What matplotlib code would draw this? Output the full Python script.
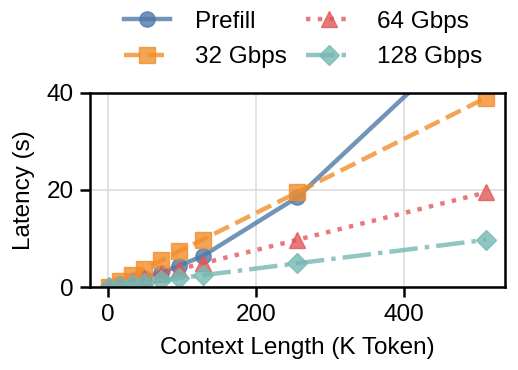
import matplotlib
matplotlib.use("Agg")
import matplotlib.pyplot as plt

# Context lengths (K tokens) and latencies (s)
context_k = [1, 16, 32, 48, 72, 96, 128, 256, 512]
prefill = [0.05, 0.6, 1.2, 1.9, 3.0, 4.4, 6.4, 18.5, 55.0]
gbps_32 = [0.08, 1.2, 2.4, 3.7, 5.5, 7.4, 9.8, 19.5, 39.0]
gbps_64 = [0.04, 0.6, 1.2, 1.85, 2.75, 3.7, 4.9, 9.75, 19.5]
gbps_128 = [0.02, 0.3, 0.6, 0.9, 1.4, 1.85, 2.45, 4.9, 9.75]

series = [
    ("Prefill", prefill, "#4e79a7", "-", "o"),
    ("32 Gbps", gbps_32, "#f28e2b", "--", "s"),
    ("64 Gbps", gbps_64, "#e15759", ":", "^"),
    ("128 Gbps", gbps_128, "#76b7b2", "-.", "D"),
]

plt.rcParams["font.family"] = ["Liberation Sans", "DejaVu Sans"]
plt.rcParams["font.size"] = 17.5

fig = plt.figure(figsize=(5.18, 3.7), dpi=100)
ax = fig.add_axes([0.174, 0.224, 0.801, 0.525])

for label, ys, color, ls, mk in series:
    ax.plot(context_k, ys, label=label, color=color, linestyle=ls, marker=mk,
            linewidth=3.2, markersize=11 if mk != "D" else 10, alpha=0.8)

ax.set_ylim(0, 40)
ax.set_yticks([0, 20, 40])
ax.set_xticks([0, 200, 400])
ax.set_xlabel("Context Length (K Token)", labelpad=8)
ax.set_ylabel("Latency (s)", labelpad=8)
ax.grid(True, color="#dddddd", linewidth=1.2)
ax.set_axisbelow(True)
for s in ax.spines.values():
    s.set_linewidth(1.8)
ax.tick_params(width=1.8, length=7, pad=5)

fig.legend(loc="upper center", bbox_to_anchor=(0.585, 1.03), ncol=2, frameon=False,
           handlelength=1.9, columnspacing=0.8, handletextpad=1.0, labelspacing=0.55)

fig.savefig("out.png", dpi=100)
